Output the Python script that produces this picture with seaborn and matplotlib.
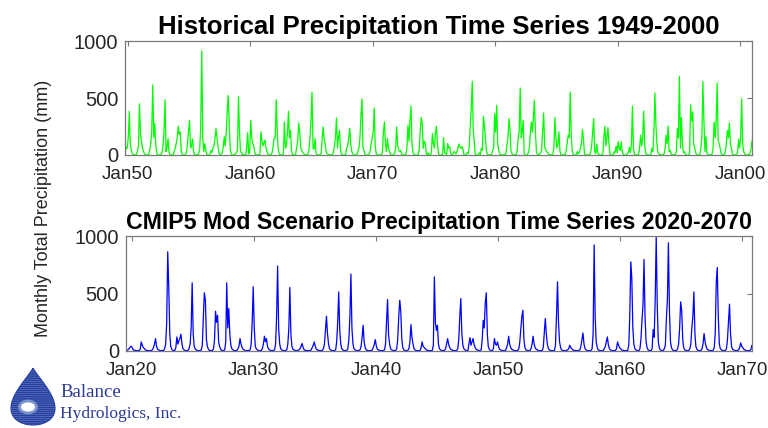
import numpy as np
import pandas as pd
import matplotlib
matplotlib.use('Agg')
import matplotlib.pyplot as plt
import matplotlib.dates as mdates
from matplotlib.patches import Polygon, Ellipse
import seaborn as sns

# ─── Data (monthly totals, mm) ────────────────────────────────────────────────
HIST_START = "1949-10-01"
HIST_1949 = [10, 70, 60]                      # Oct-Dec 1949
HIST_ROWS = [                                 # Jan..Dec, 1950-2000
    [150, 383, 100, 40, 15, 3, 0, 0, 5, 30, 80, 450],
    [180, 120, 60, 30, 10, 2, 0, 0, 5, 40, 100, 200],
    [615, 150, 275, 90, 10, 2, 0, 0, 3, 20, 80, 200],
    [484, 30, 60, 145, 20, 3, 0, 0, 2, 30, 60, 100],
    [150, 252, 180, 200, 30, 5, 0, 0, 3, 20, 100, 200],
    [304, 60, 80, 140, 30, 3, 0, 0, 2, 10, 50, 250],
    [913, 150, 30, 100, 40, 3, 0, 0, 5, 40, 20, 60],
    [80, 150, 232, 145, 80, 10, 0, 0, 20, 60, 160, 80],
    [200, 400, 522, 250, 40, 10, 0, 0, 5, 10, 20, 40],
    [513, 200, 30, 20, 5, 2, 0, 0, 60, 194, 10, 20],
    [304, 150, 100, 80, 20, 0, 0, 0, 2, 10, 203, 120],
    [80, 110, 130, 60, 30, 5, 0, 0, 5, 20, 80, 150],
    [150, 484, 200, 40, 10, 0, 0, 0, 10, 290, 60, 80],
    [200, 383, 150, 215, 40, 5, 0, 0, 5, 60, 120, 280],
    [200, 60, 40, 20, 10, 5, 0, 0, 5, 40, 150, 300],
    [550, 60, 50, 145, 20, 0, 0, 0, 2, 10, 150, 246],
    [130, 100, 20, 10, 5, 0, 0, 0, 5, 20, 80, 150],
    [325, 60, 150, 215, 40, 10, 0, 0, 0, 5, 60, 80],
    [150, 232, 100, 30, 10, 0, 0, 0, 5, 30, 60, 150],
    [350, 493, 60, 40, 5, 0, 0, 0, 10, 30, 100, 150],
    [200, 412, 80, 10, 5, 0, 0, 0, 5, 20, 200, 290],
    [100, 30, 145, 60, 30, 5, 0, 0, 5, 10, 60, 246],
    [80, 40, 30, 40, 5, 0, 0, 0, 10, 50, 261, 120],
    [300, 429, 100, 20, 5, 0, 0, 0, 5, 40, 200, 328],
    [275, 60, 120, 110, 10, 0, 20, 0, 0, 20, 188, 100],
    [60, 200, 252, 100, 10, 0, 0, 0, 5, 151, 20, 10],
    [5, 100, 60, 70, 10, 0, 5, 30, 20, 10, 30, 60],
    [96, 70, 60, 73, 50, 0, 0, 0, 20, 10, 60, 250],
    [400, 646, 232, 120, 10, 0, 0, 0, 20, 5, 60, 40],
    [339, 250, 150, 30, 5, 0, 0, 0, 5, 40, 60, 362],
    [200, 435, 100, 40, 10, 0, 0, 0, 0, 5, 10, 80],
    [150, 319, 232, 40, 10, 0, 0, 0, 5, 30, 150, 200],
    [588, 150, 200, 304, 10, 0, 0, 0, 20, 60, 200, 290],
    [200, 350, 478, 200, 20, 5, 0, 5, 20, 40, 200, 368],
    [73, 40, 30, 20, 5, 0, 0, 0, 5, 60, 328, 150],
    [60, 100, 203, 30, 5, 0, 0, 0, 5, 30, 100, 174],
    [150, 550, 200, 40, 5, 0, 0, 0, 30, 10, 20, 60],
    [100, 223, 150, 10, 5, 0, 0, 0, 0, 20, 80, 200],
    [319, 30, 10, 96, 20, 5, 0, 0, 0, 10, 150, 252],
    [80, 150, 240, 100, 10, 0, 0, 0, 30, 20, 78, 20],
    [116, 60, 40, 116, 30, 5, 0, 0, 0, 10, 20, 67],
    [20, 100, 429, 60, 10, 0, 0, 0, 5, 60, 174, 80],
    [150, 386, 100, 10, 5, 0, 0, 0, 5, 60, 30, 200],
    [545, 250, 100, 20, 10, 5, 0, 0, 0, 10, 60, 174],
    [100, 255, 30, 40, 10, 0, 0, 0, 5, 30, 232, 150],
    [690, 60, 328, 100, 20, 30, 0, 0, 0, 0, 20, 440],
    [300, 377, 100, 60, 20, 0, 0, 0, 5, 60, 150, 646],
    [300, 30, 160, 20, 5, 0, 0, 0, 5, 60, 290, 150],
    [300, 632, 130, 100, 60, 10, 0, 0, 5, 30, 100, 215],
    [150, 281, 100, 60, 10, 0, 0, 0, 5, 20, 139, 60],
    [150, 493, 100, 30, 10, 0, 0, 0, 5, 10, 40, 122],
]

CMIP_START = "2019-07-01"
CMIP_2019 = [5, 5, 10, 20, 30, 41]           # Jul-Dec 2019
CMIP_ROWS = [                                 # Jan..Dec, 2020-2069
    [30, 10, 8, 5, 3, 3, 3, 5, 15, 79, 50, 30],
    [20, 10, 5, 5, 3, 3, 3, 5, 10, 30, 60, 108],
    [40, 15, 10, 5, 3, 3, 3, 5, 20, 60, 250, 865],
    [560, 150, 40, 15, 5, 3, 5, 30, 122, 60, 90, 110],
    [146, 60, 20, 10, 5, 3, 3, 5, 20, 60, 200, 594],
    [150, 40, 20, 10, 5, 3, 3, 5, 10, 50, 300, 507],
    [442, 100, 40, 15, 5, 3, 3, 5, 20, 100, 346, 250],
    [311, 80, 40, 15, 5, 3, 3, 10, 80, 594, 200, 370],
    [150, 50, 20, 10, 5, 3, 3, 5, 20, 40, 108, 60],
    [30, 15, 10, 5, 3, 3, 3, 5, 10, 60, 250, 560],
    [200, 40, 20, 10, 5, 3, 3, 5, 20, 60, 128, 80],
    [108, 40, 20, 10, 5, 3, 3, 5, 10, 60, 300, 740],
    [200, 60, 20, 10, 5, 3, 3, 5, 10, 60, 200, 553],
    [150, 40, 15, 10, 5, 3, 3, 5, 10, 20, 40, 65],
    [30, 10, 5, 5, 3, 3, 3, 5, 10, 30, 50, 79],
    [40, 15, 10, 5, 3, 3, 3, 5, 20, 60, 180, 303],
    [150, 60, 20, 10, 5, 3, 3, 5, 10, 80, 250, 515],
    [180, 60, 20, 10, 5, 3, 3, 5, 20, 100, 300, 670],
    [195, 60, 20, 10, 5, 3, 3, 5, 10, 40, 120, 224],
    [80, 30, 10, 5, 3, 3, 3, 5, 10, 30, 60, 99],
    [40, 15, 10, 5, 3, 3, 3, 5, 10, 60, 250, 448],
    [137, 60, 20, 10, 5, 3, 3, 5, 20, 100, 300, 442],
    [340, 100, 30, 10, 5, 3, 3, 5, 20, 80, 230, 120],
    [60, 20, 10, 5, 3, 3, 3, 5, 30, 79, 40, 30],
    [20, 10, 5, 5, 3, 3, 3, 5, 50, 646, 250, 180],
    [224, 60, 20, 10, 5, 3, 3, 5, 20, 60, 108, 60],
    [30, 15, 10, 5, 3, 3, 3, 5, 20, 100, 300, 457],
    [150, 50, 20, 10, 5, 3, 3, 60, 117, 50, 80, 108],
    [60, 30, 15, 10, 5, 3, 3, 10, 100, 268, 200, 420],
    [507, 150, 40, 15, 5, 3, 3, 20, 108, 60, 50, 79],
    [40, 15, 10, 5, 3, 3, 3, 5, 30, 60, 128, 60],
    [30, 15, 10, 5, 3, 3, 3, 5, 20, 80, 200, 300],
    [355, 100, 30, 10, 5, 3, 3, 5, 20, 60, 128, 60],
    [30, 15, 10, 5, 3, 3, 3, 5, 30, 150, 283, 150],
    [60, 20, 10, 5, 3, 3, 3, 5, 50, 300, 603, 250],
    [80, 30, 10, 5, 3, 3, 3, 5, 10, 20, 50, 30],
    [20, 10, 5, 5, 3, 3, 3, 5, 10, 40, 100, 157],
    [60, 20, 10, 5, 3, 3, 3, 5, 20, 150, 925, 300],
    [80, 30, 10, 5, 3, 3, 3, 5, 20, 40, 80, 122],
    [50, 20, 10, 5, 3, 3, 3, 5, 20, 79, 50, 30],
    [20, 10, 5, 5, 3, 3, 3, 5, 50, 300, 777, 632],
    [200, 60, 20, 10, 5, 3, 3, 20, 100, 268, 400, 797],
    [300, 80, 30, 10, 5, 3, 3, 20, 186, 120, 450, 1000],
    [400, 80, 30, 10, 5, 3, 3, 20, 50, 283, 450, 943],
    [350, 80, 30, 10, 5, 3, 3, 5, 20, 60, 200, 428],
    [355, 100, 30, 10, 5, 3, 3, 5, 20, 60, 200, 300],
    [515, 150, 40, 15, 5, 3, 3, 5, 20, 60, 152, 80],
    [40, 15, 10, 5, 3, 3, 3, 5, 30, 150, 600, 728],
    [300, 60, 20, 10, 5, 3, 3, 5, 20, 100, 250, 408],
    [150, 40, 15, 10, 5, 3, 3, 5, 10, 30, 70, 40],
]
CMIP_2070 = [30, 15, 10, 5, 3, 3, 3, 5, 10, 50]   # Jan-Oct 2070

TITLES = ["Historical Precipitation Time Series 1949-2000",
          "CMIP5 Mod Scenario Precipitation Time Series 2020-2070"]
TITLE_SIZES = [18.5, 16.7]
Y_LABEL = "Monthly Total Precipitation (mm)"
Y_TICKS = [0, 500, 1000]


def monthly_frame(start, head, rows, tail=()):
    vals = list(head) + [v for r in rows for v in r] + list(tail)
    dates = pd.date_range(start, periods=len(vals), freq="MS") + pd.Timedelta(days=14)
    return pd.DataFrame({"date": dates, "precip": vals})


hist = monthly_frame(HIST_START, HIST_1949, HIST_ROWS)
cmip = monthly_frame(CMIP_START, CMIP_2019, CMIP_ROWS, CMIP_2070)

# ─── Style ────────────────────────────────────────────────────────────────────
sns.set_style("white")
plt.rcParams["font.family"] = ["Liberation Sans", "DejaVu Sans"]
plt.rcParams["hatch.linewidth"] = 1.3
AX_GREY = "#7a7a7a"
TXT = "#262626"

fig = plt.figure(figsize=(7.68, 4.28), dpi=100)
ax_top = fig.add_axes([0.163, 0.638, 0.816, 0.266])
ax_bot = fig.add_axes([0.164, 0.180, 0.815, 0.268])

panels = [(ax_top, hist, "#00ff00"), (ax_bot, cmip, "#0000ff")]
for (ax, df, color), title, tsize in zip(panels, TITLES, TITLE_SIZES):
    sns.lineplot(data=df, x="date", y="precip", ax=ax, color=color, linewidth=0.9)
    ax.set_xlim(df["date"].iloc[0], df["date"].iloc[-1])
    ax.set_ylim(0, 1000)
    ax.set_yticks(Y_TICKS)
    ax.xaxis.set_major_locator(mdates.YearLocator(10))
    ax.xaxis.set_major_formatter(mdates.DateFormatter("%b%y"))
    ax.set_xlabel("")
    ax.set_ylabel("")
    ax.tick_params(direction="in", top=True, right=True, length=3.5, width=0.8,
                   color=AX_GREY, labelcolor=TXT)
    ax.tick_params(axis="x", labelsize=13.5, pad=8)
    ax.tick_params(axis="y", labelsize=14.5, pad=5)
    for sp in ax.spines.values():
        sp.set_color(AX_GREY)
        sp.set_linewidth(0.9)
    ax.set_title(title, fontsize=tsize, fontweight="bold", color="black", pad=5)

fig.text(0.056, 0.512, Y_LABEL, rotation=90, va="center", ha="center",
         fontsize=13, color=TXT)

# ─── Logo ─────────────────────────────────────────────────────────────────────
logo = fig.add_axes([0, 0, 80 / 768, 68 / 428])
logo.set_xlim(0, 80)
logo.set_ylim(428, 360)
logo.axis("off")
t = np.linspace(0, 2 * np.pi, 200)
dx = np.sin(t) * np.abs(np.sin(t / 2)) ** 1.4
drop = np.column_stack([33 + 22 * dx / np.abs(dx).max(), 396.5 - 28.5 * np.cos(t)])
logo.add_patch(Polygon(drop, closed=True, facecolor="#b7c4ea", edgecolor="#2540a0",
                       hatch="--------", linewidth=0.8))
logo.add_patch(Ellipse((28, 407), 17, 12, facecolor="white", edgecolor="#7d93d0",
                       linewidth=2))

LOGO_BLUE = "#2b3a94"
fig.text(60 / 768, 1 - 397 / 428, "Balance", fontsize=13.5, color=LOGO_BLUE,
         family=["Liberation Serif", "DejaVu Serif"], va="baseline")
fig.text(60 / 768, 1 - 418 / 428, "Hydrologics, Inc.", fontsize=12.5, color=LOGO_BLUE,
         family=["Liberation Serif", "DejaVu Serif"], va="baseline")

fig.savefig("out.png", dpi=100)
